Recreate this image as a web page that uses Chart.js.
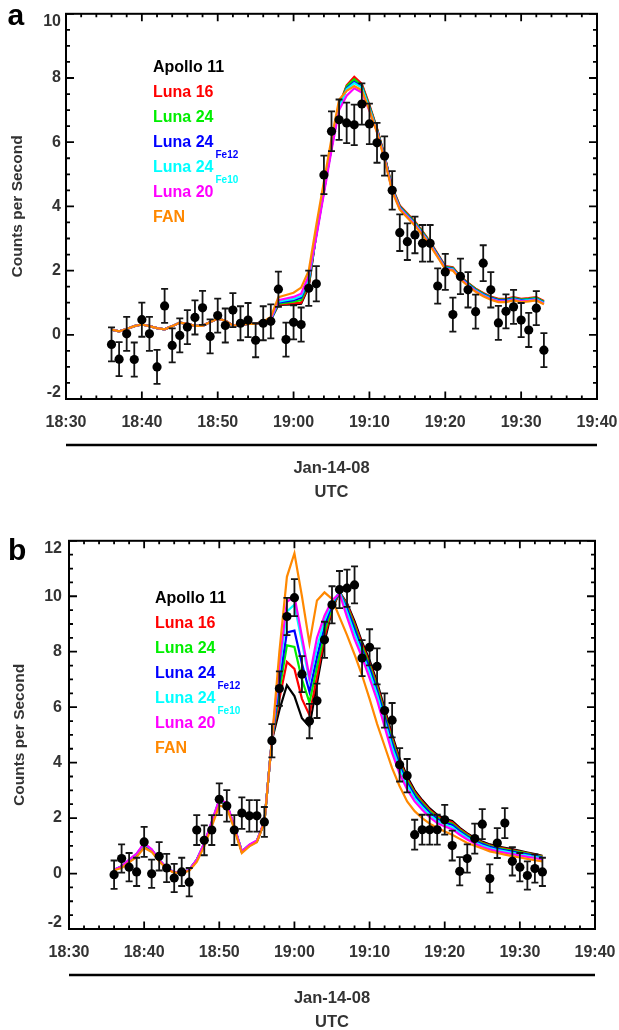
<!DOCTYPE html>
<html><head><meta charset="utf-8">
<script src="https://cdn.jsdelivr.net/npm/chart.js@4.4.1/dist/chart.umd.min.js"></script>
<style>
html,body{margin:0;padding:0;background:#fff;}
body{width:619px;height:1030px;position:relative;overflow:hidden;}
canvas{position:absolute;left:0;}
#ca{top:0;} #cb{top:525px;}
</style></head><body>
<canvas id="ca" width="619" height="525"></canvas>
<canvas id="cb" width="619" height="505"></canvas>
<script>
// ---------- data ----------
const times = ["18:36","18:37","18:38","18:39","18:40","18:41","18:42","18:43","18:44","18:45","18:46","18:47","18:48","18:49","18:50","18:51","18:52","18:53","18:54","18:55","18:56","18:57","18:58","18:59","19:00","19:01","19:02","19:03","19:04","19:05","19:06","19:07","19:08","19:09","19:10","19:11","19:12","19:13","19:14","19:15","19:16","19:17","19:18","19:19","19:20","19:21","19:22","19:23","19:24","19:25","19:26","19:27","19:28","19:29","19:30","19:31","19:32","19:33"];
const xTickLabels = ["18:30","18:40","18:50","19:00","19:10","19:20","19:30","19:40"];
const seriesNames = ["Apollo 11","Luna 16","Luna 24","Luna 24","Luna 24","Luna 20","FAN"];
const seriesSubs  = ["","","","Fe12","Fe10","",""];
const seriesColors = ["#000000","#ff0000","#00ee00","#0000ff","#00ffff","#ff00ff","#ff8800"];

// panel a
const obsA = [-0.30,-0.76,0.03,-0.77,0.47,0.03,-1.00,0.90,-0.33,-0.02,0.24,0.54,0.84,-0.05,0.60,0.29,0.77,0.36,0.46,-0.17,0.36,0.42,1.42,-0.15,0.39,0.32,1.45,1.59,4.98,6.34,6.70,6.60,6.54,7.19,6.57,5.98,5.57,4.50,3.18,2.90,3.11,2.85,2.85,1.52,1.96,0.63,1.82,1.40,0.72,2.23,1.40,0.37,0.73,0.87,0.46,0.15,0.83,-0.48];
const errA = [0.53,0.53,0.53,0.53,0.53,0.53,0.53,0.53,0.53,0.53,0.53,0.53,0.53,0.53,0.53,0.53,0.53,0.53,0.53,0.53,0.53,0.53,0.55,0.53,0.53,0.53,0.55,0.55,0.60,0.62,0.63,0.63,0.63,0.64,0.63,0.62,0.61,0.60,0.57,0.57,0.57,0.57,0.57,0.55,0.56,0.53,0.55,0.55,0.53,0.56,0.55,0.53,0.53,0.53,0.53,0.53,0.53,0.53];
const aApollo11 = [0.16,0.11,0.18,0.27,0.32,0.27,0.21,0.17,0.27,0.38,0.34,0.28,0.28,0.40,0.50,0.44,0.29,0.31,0.34,0.34,0.41,0.47,0.93,0.94,0.95,0.97,1.50,3.15,4.50,5.85,7.10,7.73,7.98,7.78,7.12,6.40,5.55,4.57,4.00,3.75,3.50,3.20,2.87,2.50,2.12,2.08,1.80,1.60,1.42,1.28,1.17,1.10,1.10,1.15,1.10,1.12,1.15,1.03];
const aLuna16   = [0.16,0.11,0.18,0.27,0.32,0.27,0.21,0.17,0.27,0.38,0.34,0.28,0.28,0.40,0.50,0.44,0.29,0.31,0.34,0.34,0.41,0.47,0.95,0.96,0.98,1.00,1.55,3.15,4.52,5.88,7.15,7.77,8.04,7.82,7.16,6.43,5.58,4.60,4.03,3.78,3.53,3.22,2.90,2.52,2.14,2.10,1.82,1.62,1.44,1.30,1.19,1.12,1.12,1.17,1.12,1.14,1.17,1.05];
const aLuna24   = [0.16,0.11,0.18,0.27,0.32,0.27,0.21,0.17,0.27,0.38,0.34,0.28,0.28,0.40,0.50,0.44,0.29,0.31,0.34,0.34,0.41,0.47,0.97,1.00,1.03,1.08,1.62,3.15,4.50,5.86,7.12,7.74,7.96,7.76,7.12,6.40,5.55,4.57,4.00,3.75,3.50,3.20,2.87,2.50,2.12,2.08,1.80,1.60,1.42,1.28,1.17,1.10,1.10,1.15,1.10,1.12,1.15,1.03];
const aLuna24Fe12 = [0.16,0.11,0.18,0.27,0.32,0.27,0.21,0.17,0.27,0.38,0.34,0.28,0.28,0.40,0.50,0.44,0.29,0.31,0.34,0.34,0.41,0.47,1.00,1.04,1.08,1.16,1.70,3.12,4.48,5.84,7.08,7.68,7.88,7.72,7.08,6.37,5.52,4.54,3.97,3.72,3.47,3.17,2.85,2.48,2.10,2.06,1.78,1.58,1.40,1.26,1.15,1.08,1.08,1.13,1.08,1.10,1.13,1.01];
const aLuna24Fe10 = [0.16,0.11,0.18,0.27,0.32,0.27,0.21,0.17,0.27,0.38,0.34,0.28,0.28,0.40,0.50,0.44,0.29,0.31,0.34,0.34,0.41,0.48,1.03,1.08,1.12,1.21,1.75,3.10,4.46,5.82,7.05,7.65,7.84,7.70,7.06,6.35,5.50,4.52,3.95,3.70,3.45,3.15,2.83,2.46,2.08,2.04,1.76,1.56,1.38,1.24,1.13,1.06,1.06,1.11,1.06,1.08,1.11,0.99];
const aLuna20   = [0.16,0.11,0.18,0.27,0.32,0.27,0.21,0.17,0.27,0.38,0.34,0.28,0.28,0.40,0.50,0.44,0.29,0.31,0.34,0.34,0.41,0.50,1.08,1.13,1.18,1.28,1.85,3.05,4.40,5.75,7.00,7.45,7.68,7.55,6.98,6.32,5.48,4.50,3.93,3.68,3.43,3.13,2.81,2.44,2.06,2.02,1.74,1.54,1.36,1.22,1.11,1.04,1.04,1.09,1.04,1.06,1.09,0.97];
const aFAN      = [0.16,0.11,0.18,0.27,0.32,0.27,0.21,0.17,0.27,0.38,0.34,0.28,0.28,0.40,0.50,0.44,0.29,0.31,0.34,0.34,0.41,0.56,1.17,1.24,1.31,1.47,2.00,3.42,4.78,6.11,7.32,7.60,7.75,7.62,7.00,6.30,5.45,4.47,3.90,3.65,3.40,3.10,2.78,2.42,2.04,2.00,1.72,1.52,1.34,1.20,1.09,1.02,1.02,1.07,1.02,1.04,1.07,0.95];

// panel b
const obsB = [-0.04,0.54,0.23,0.06,1.14,-0.01,0.62,0.20,-0.16,0.06,-0.31,1.57,1.20,1.57,2.68,2.44,1.57,2.18,2.08,2.08,1.86,4.79,6.67,9.27,9.95,7.19,5.50,6.23,8.43,9.69,10.24,10.29,10.41,7.77,8.16,7.47,5.88,5.53,3.92,3.53,1.40,1.58,1.58,1.58,1.94,1.01,0.08,0.54,1.26,1.78,-0.18,1.10,1.82,0.44,0.23,-0.07,0.18,0.06];
const errB = [0.51,0.51,0.51,0.51,0.54,0.51,0.51,0.51,0.51,0.51,0.51,0.54,0.54,0.54,0.57,0.57,0.54,0.57,0.57,0.57,0.54,0.60,0.62,0.67,0.67,0.65,0.62,0.62,0.65,0.67,0.67,0.67,0.67,0.65,0.65,0.65,0.62,0.62,0.60,0.60,0.54,0.54,0.54,0.54,0.54,0.54,0.51,0.51,0.54,0.54,0.51,0.54,0.54,0.51,0.51,0.51,0.51,0.51];
const bApollo11 = [0.13,0.24,0.46,0.67,1.03,0.84,0.48,0.19,0.04,0.03,0.13,0.48,1.05,1.81,2.60,2.47,1.66,0.78,1.01,1.16,1.85,4.80,5.90,6.79,6.40,5.60,5.30,6.85,8.35,9.50,10.15,9.75,9.10,8.35,7.70,6.90,5.95,5.00,4.15,3.50,3.00,2.65,2.35,2.12,1.98,1.90,1.65,1.45,1.28,1.15,1.05,0.98,0.93,0.88,0.82,0.76,0.70,0.64];
const bLuna16   = [0.13,0.24,0.46,0.68,1.04,0.84,0.48,0.19,0.04,0.03,0.13,0.48,1.06,1.82,2.61,2.48,1.66,0.78,1.01,1.16,1.85,4.80,6.30,7.63,7.38,6.30,5.72,7.10,8.50,9.55,10.15,9.70,9.02,8.27,7.60,6.80,5.85,4.90,4.07,3.43,2.94,2.60,2.30,2.07,1.93,1.85,1.61,1.42,1.25,1.12,1.02,0.95,0.90,0.85,0.79,0.74,0.68,0.62];
const bLuna24   = [0.13,0.25,0.47,0.69,1.05,0.85,0.49,0.19,0.05,0.03,0.13,0.49,1.07,1.83,2.62,2.49,1.67,0.79,1.02,1.17,1.86,4.80,6.60,8.23,8.17,7.00,6.17,7.45,8.70,9.62,10.15,9.62,8.92,8.17,7.50,6.70,5.75,4.80,3.98,3.36,2.88,2.54,2.25,2.02,1.88,1.80,1.57,1.38,1.22,1.09,0.99,0.92,0.87,0.82,0.77,0.72,0.66,0.60];
const bLuna24Fe12 = [0.14,0.25,0.48,0.70,1.06,0.86,0.49,0.20,0.05,0.03,0.14,0.49,1.08,1.84,2.64,2.50,1.68,0.79,1.02,1.17,1.86,4.80,6.90,8.70,8.76,7.57,6.55,7.80,8.92,9.70,10.15,9.55,8.82,8.07,7.40,6.60,5.65,4.70,3.90,3.28,2.81,2.48,2.19,1.97,1.83,1.75,1.53,1.34,1.18,1.06,0.96,0.89,0.84,0.79,0.74,0.69,0.64,0.58];
const bLuna24Fe10 = [0.14,0.26,0.49,0.71,1.08,0.87,0.50,0.20,0.05,0.03,0.14,0.50,1.09,1.86,2.66,2.52,1.69,0.80,1.03,1.18,1.87,4.80,7.30,9.45,9.70,8.35,6.95,8.15,9.13,9.78,10.15,9.43,8.65,7.95,7.25,6.45,5.50,4.55,3.78,3.18,2.72,2.40,2.12,1.90,1.77,1.68,1.47,1.29,1.13,1.01,0.92,0.85,0.80,0.75,0.70,0.65,0.60,0.55];
const bLuna20   = [0.14,0.26,0.50,0.72,1.10,0.88,0.50,0.20,0.05,0.03,0.14,0.50,1.10,1.88,2.68,2.54,1.70,0.80,1.04,1.19,1.88,4.80,7.55,9.80,10.00,8.55,7.08,8.50,9.30,9.85,10.10,9.25,8.45,7.80,7.05,6.25,5.30,4.35,3.60,3.03,2.60,2.30,2.03,1.82,1.70,1.60,1.40,1.23,1.08,0.96,0.87,0.80,0.75,0.70,0.65,0.60,0.56,0.50];
const bFAN      = [0.12,0.20,0.40,0.60,0.93,0.78,0.44,0.16,0.03,0.02,0.10,0.42,0.98,1.70,2.45,2.38,1.60,0.74,0.98,1.13,1.84,4.80,8.00,10.70,11.55,10.00,8.30,9.85,10.14,9.90,9.25,8.60,7.90,7.15,6.30,5.40,4.60,3.80,3.15,2.60,2.25,2.00,1.80,1.65,1.52,1.40,1.25,1.10,1.00,0.90,0.80,0.74,0.68,0.63,0.58,0.53,0.48,0.44];

// ---------- drawing ----------
const FONT = "'Liberation Sans', Arial, Helvetica, sans-serif";
const toMin = t => { const p = t.split(':').map(Number); return (p[0] - 18) * 60 + p[1] - 30; };
const xs = times.map(toMin);
const pts = arr => arr.map((v, i) => ({x: xs[i], y: v}));

function makeDecor(cfg) {
  return {
    id: 'decor',
    beforeDatasetDraw(chart, args) {
      const ds = chart.data.datasets[args.index];
      if (!ds.errors) return;
      const ctx = chart.ctx, sx = chart.scales.x, sy = chart.scales.y;
      ctx.save();
      ctx.strokeStyle = '#151515'; ctx.lineWidth = 1.8;
      ds.data.forEach((p, i) => {
        const px = sx.getPixelForValue(p.x);
        const y1 = sy.getPixelForValue(p.y + ds.errors[i]);
        const y2 = sy.getPixelForValue(p.y - ds.errors[i]);
        ctx.beginPath();
        ctx.moveTo(px, y1); ctx.lineTo(px, y2);
        ctx.moveTo(px - 3.5, y1); ctx.lineTo(px + 3.5, y1);
        ctx.moveTo(px - 3.5, y2); ctx.lineTo(px + 3.5, y2);
        ctx.stroke();
      });
      ctx.restore();
    },
    afterDraw(chart) {
      const ctx = chart.ctx, a = chart.chartArea, sx = chart.scales.x, sy = chart.scales.y;
      ctx.save();
      // frame
      ctx.strokeStyle = '#000'; ctx.lineWidth = 2;
      ctx.strokeRect(a.left, a.top, a.right - a.left, a.bottom - a.top);
      // inward ticks
      ctx.lineWidth = 1.8;
      ctx.beginPath();
      for (let v = 0; v <= 70; v += 2) {
        const px = sx.getPixelForValue(v);
        const len = (v % 10 === 0) ? 7.5 : 3.5;
        ctx.moveTo(px, a.bottom); ctx.lineTo(px, a.bottom - len);
        ctx.moveTo(px, a.top); ctx.lineTo(px, a.top + len);
      }
      for (let v = -2; v <= cfg.ymax + 1e-9; v += 0.5) {
        const py = sy.getPixelForValue(v);
        const len = (Math.abs(v % 2) < 1e-9) ? 8 : 4;
        ctx.moveTo(a.left, py); ctx.lineTo(a.left + len, py);
        ctx.moveTo(a.right, py); ctx.lineTo(a.right - len, py);
      }
      ctx.stroke();
      // y tick labels (kept inside the frame height, as in the original)
      ctx.fillStyle = '#333';
      ctx.font = 'bold 16px ' + FONT;
      ctx.textAlign = 'right'; ctx.textBaseline = 'middle';
      sy.ticks.forEach(t => {
        let py = sy.getPixelForValue(t.value);
        py = Math.min(Math.max(py, a.top + 7.5), a.bottom - 6);
        ctx.fillText(String(t.value), a.left - cfg.yPad, py);
      });
      // rule below tick labels
      ctx.lineWidth = 2.4;
      ctx.beginPath();
      ctx.moveTo(a.left, a.bottom + 46); ctx.lineTo(a.right, a.bottom + 46);
      ctx.stroke();
      // x titles
      ctx.textAlign = 'center'; ctx.textBaseline = 'middle';
      ctx.font = 'bold 16.5px ' + FONT;
      const cx = (a.left + a.right) / 2;
      ctx.fillText('Jan-14-08', cx, a.bottom + 69);
      ctx.fillText('UTC', cx, a.bottom + 93);
      // y title
      ctx.save();
      ctx.translate(cfg.titleX, (a.top + a.bottom) / 2);
      ctx.rotate(-Math.PI / 2);
      ctx.font = 'bold 15.5px ' + FONT;
      ctx.fillText('Counts per Second', 0, 0);
      ctx.restore();
      // panel letter
      ctx.fillStyle = '#000';
      ctx.textAlign = 'left'; ctx.textBaseline = 'alphabetic';
      ctx.font = 'bold 30px ' + FONT;
      ctx.fillText(cfg.letter, cfg.letterX, cfg.letterY);
      // legend
      seriesNames.forEach((name, i) => {
        const y = cfg.legY + 25 * i;
        ctx.font = 'bold 16px ' + FONT;
        ctx.fillStyle = seriesColors[i];
        ctx.fillText(name, cfg.legX, y);
        if (seriesSubs[i]) {
          const w = ctx.measureText(name).width;
          ctx.font = 'bold 10px ' + FONT;
          ctx.fillText(seriesSubs[i], cfg.legX + w + 2, y + 10.5);
        }
      });
      ctx.restore();
    }
  };
}

function makeChart(id, cfg) {
  const lineSets = cfg.lines.map((arr, i) => ({
    label: seriesNames[i] + (seriesSubs[i] ? ' ' + seriesSubs[i] : ''),
    data: pts(arr),
    borderColor: seriesColors[i],
    backgroundColor: seriesColors[i],
    borderWidth: 2.2,
    pointRadius: 0,
    tension: 0,
    fill: false,
    order: 7 - i
  }));
  const obsSet = {
    label: 'Observed',
    data: pts(cfg.obs),
    errors: cfg.err,
    showLine: false,
    pointRadius: 4.6,
    pointBackgroundColor: '#000',
    pointBorderWidth: 0,
    borderColor: '#000',
    order: 0
  };
  return new Chart(document.getElementById(id), {
    type: 'line',
    data: {datasets: [obsSet].concat(lineSets)},
    options: {
      responsive: false, animation: false, devicePixelRatio: 1,
      layout: {padding: {left: 0, right: cfg.padRight, top: cfg.padTop, bottom: 0}},
      plugins: {legend: {display: false}, tooltip: {enabled: false}},
      scales: {
        x: {
          type: 'linear', min: 0, max: 70,
          grid: {display: false, drawTicks: false}, border: {display: false},
          ticks: {
            stepSize: 10, autoSkip: false, maxRotation: 0, padding: 0,
            color: '#333', font: {family: FONT, size: 16, weight: 'bold', lineHeight: 2.95},
            callback: v => xTickLabels[Math.round(v / 10)]
          },
          afterFit: s => { s.height = cfg.xHeight; }
        },
        y: {
          min: -2, max: cfg.ymax,
          grid: {display: false, drawTicks: false}, border: {display: false},
          ticks: {
            stepSize: 2, padding: cfg.yPad, color: 'rgba(0,0,0,0)',
            font: {family: FONT, size: 16, weight: 'bold', lineHeight: 1.1}
          },
          afterFit: s => { s.width = cfg.yWidth; }
        }
      }
    },
    plugins: [makeDecor(cfg)]
  });
}

makeChart('ca', {
  lines: [aApollo11, aLuna16, aLuna24, aLuna24Fe12, aLuna24Fe10, aLuna20, aFAN],
  obs: obsA, err: errA, ymax: 10,
  yWidth: 66, padRight: 22, padTop: 9, xHeight: 126, yPad: 5,
  titleX: 18, letter: 'a', letterX: 7.5, letterY: 25,
  legX: 153, legY: 72.3
});
makeChart('cb', {
  lines: [bApollo11, bLuna16, bLuna24, bLuna24Fe12, bLuna24Fe10, bLuna20, bFAN],
  obs: obsB, err: errB, ymax: 12,
  yWidth: 69, padRight: 24, padTop: 15, xHeight: 101, yPad: 7,
  titleX: 20, letter: 'b', letterX: 8, letterY: 35,
  legX: 155, legY: 78.3
});
</script>
</body></html>
